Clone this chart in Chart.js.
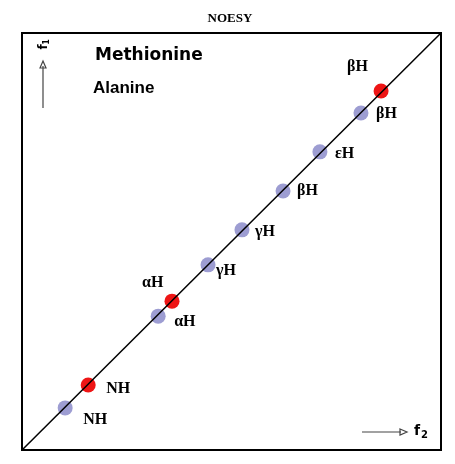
<!DOCTYPE html>
<html><head><meta charset="utf-8">
<script src="https://cdn.jsdelivr.net/npm/chart.js@4"></script>
<style>html,body{margin:0;background:#fff}#wrap{width:455px;height:464px}</style>
</head><body><div id="wrap"><canvas id="c"></canvas></div>
<script>
// peaks on the diagonal (f2, f1) in arbitrary units 0..100
const alaninePeaks = [
  { x: 10.3, y: 10.1, label: 'NH' },
  { x: 32.5, y: 32.1, label: 'αH' },
  { x: 44.4, y: 44.4, label: 'γH' },
  { x: 52.5, y: 52.8, label: 'γH' },
  { x: 62.3, y: 62.1, label: 'βH' },
  { x: 71.1, y: 71.5, label: 'εH' },
  { x: 80.9, y: 80.8, label: 'βH' }
];
const methioninePeaks = [
  { x: 15.8, y: 15.6, label: 'NH' },
  { x: 35.8, y: 35.7, label: 'αH' },
  { x: 85.7, y: 86.1, label: 'βH' }
];
const diagonal = [{ x: 0, y: 0 }, { x: 100, y: 100 }];
// label offsets in px from each point
const alanineOffsets = [[18, 12], [16, 6], [8, 6], [13, 2], [14, 0], [15, 2], [15, 1]];
const methionineOffsets = [[18, 4], [-30, -18], [-34, -24]];

const overlay = {
  id: 'overlay',
  afterDraw(chart) {
    const { ctx, chartArea: a, scales: { x, y } } = chart;
    ctx.save();
    ctx.strokeStyle = '#000'; ctx.lineWidth = 2;
    ctx.strokeRect(a.left, a.top, a.right - a.left, a.bottom - a.top);
    ctx.fillStyle = '#000';
    ctx.font = 'bold 13px "Liberation Serif"';
    ctx.textAlign = 'center'; ctx.textBaseline = 'middle';
    ctx.fillText('NOESY', 230, 19);
    ctx.textAlign = 'left';
    ctx.font = '900 17px "DejaVu Sans"';
    ctx.fillText('Methionine', 95, 56);
    ctx.font = 'bold 17px "Liberation Sans"';
    ctx.fillText('Alanine', 93, 88);
    ctx.font = 'bold 16px "Liberation Serif"';
    const lab = (pts, offs) => pts.forEach((p, i) => {
      ctx.fillText(p.label, x.getPixelForValue(p.x) + offs[i][0], y.getPixelForValue(p.y) + offs[i][1]);
    });
    lab(alaninePeaks, alanineOffsets);
    lab(methioninePeaks, methionineOffsets);
    // f1 / f2 arrows
    ctx.strokeStyle = '#444'; ctx.lineWidth = 1.2;
    ctx.beginPath(); ctx.moveTo(43, 108); ctx.lineTo(43, 66); ctx.stroke();
    ctx.beginPath(); ctx.moveTo(40, 68); ctx.lineTo(43, 61); ctx.lineTo(46, 68); ctx.closePath(); ctx.stroke();
    ctx.beginPath(); ctx.moveTo(362, 432); ctx.lineTo(401, 432); ctx.stroke();
    ctx.beginPath(); ctx.moveTo(400, 429); ctx.lineTo(407, 432); ctx.lineTo(400, 435); ctx.closePath(); ctx.stroke();
    ctx.font = 'bold 14px "DejaVu Sans"';
    ctx.fillText('f', 414, 431);
    ctx.font = 'bold 10px "DejaVu Sans"';
    ctx.fillText('2', 421, 435);
    ctx.translate(44, 47); ctx.rotate(-Math.PI / 2);
    ctx.font = 'bold 12px "DejaVu Sans"'; ctx.textAlign = 'center';
    ctx.fillText('f', 0, 0);
    ctx.font = 'bold 8px "DejaVu Sans"'; ctx.fillText('1', 5, 3);
    ctx.restore();
  }
};

new Chart(document.getElementById('c'), {
  type: 'scatter',
  data: {
    datasets: [
      { data: diagonal, showLine: true, borderColor: '#000', borderWidth: 1.5, pointRadius: 0 },
      { data: alaninePeaks, backgroundColor: '#9d9dd2', borderWidth: 0, pointRadius: 7.5 },
      { data: methioninePeaks, backgroundColor: '#ee1515', borderWidth: 0, pointRadius: 7.5 }
    ]
  },
  options: {
    responsive: true, maintainAspectRatio: false, animation: false,
    layout: { padding: { left: 22, right: 14, top: 33, bottom: 14 } },
    plugins: { legend: { display: false }, tooltip: { enabled: false } },
    scales: {
      x: { display: false, min: 0, max: 100 },
      y: { display: false, min: 0, max: 100 }
    }
  },
  plugins: [overlay]
});
</script></body></html>
